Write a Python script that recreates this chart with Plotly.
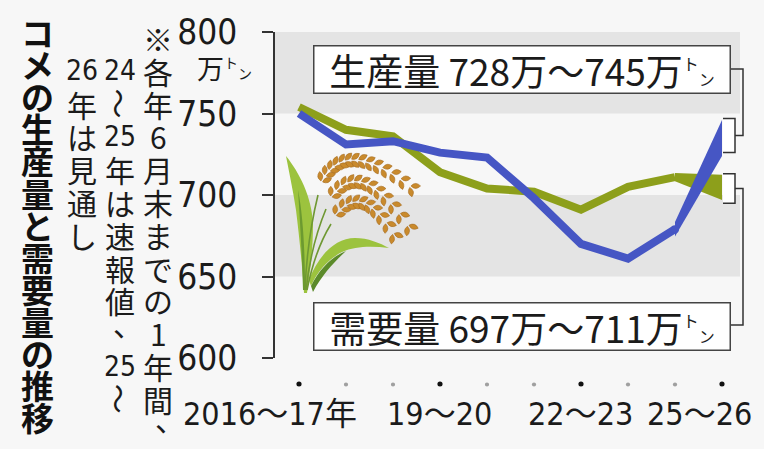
import re
import numpy as np
import plotly.graph_objects as go

# コメの生産量と需要量（万トン）
periods = ["2016〜17", "17〜18", "18〜19", "19〜20", "20〜21",
           "21〜22", "22〜23", "23〜24", "24〜25", "25〜26"]
production = [750, 731, 733, 726, 723, 698, 670, 661, 679]   # 生産量
production_outlook = [728, 745]                               # 25〜26 見通し
demand = [754, 740, 736, 714, 704, 702, 691, 705, 711]       # 需要量
demand_outlook = [697, 711]
ytick_vals = [600, 650, 700, 750, 800]
xtick_pos = [0, 3, 6, 9]
xtick_text = ["2016〜17年", "19〜20", "22〜23", "25〜26"]

title = "コメの生産量と需要量の推移"
note_cols = [
    ["※", "各", "年", "6", "月", "末", "ま", "で", "の", "1", "年", "間", "、"],
    ["24", "〜", "25", "年", "は", "速", "報", "値", "、", "25", "〜"],
    ["26", "年", "は", "見", "通", "し"],
]

BLUE = "#4656c4"
GREEN = "#8d9f1b"
INK = "#1b1b1b"
BG = "#f7f7f7"
CJK = "Noto Sans CJK JP"
NARROW = "DejaVu Sans Condensed, Noto Sans CJK JP"
TON = ("<sup><span style='font-size:16px'>ト</span></sup>"
       "<span style='font-size:16px'>ン</span>")

# plot area in page pixels - only used to place decorations and text
L, R, T, B = 275, 740, 32, 358


def fx(px):
    return (px - L) / (R - L)


def fy(py):
    return (B - py) / (B - T)


def vy(v):
    return (v - 600) / 200


def px_path(s):
    # pixel "x,y" pairs -> paper coords
    return re.sub(r"(-?[\d.]+),(-?[\d.]+)",
                  lambda m: f"{fx(float(m.group(1))):.5f},{fy(float(m.group(2))):.5f}", s)


fig = go.Figure()

# ---- background bands ----
shapes = []
for lo, hi in [(750, 800), (650, 700)]:
    shapes.append(dict(type="rect", xref="paper", yref="y", x0=0, x1=1, y0=lo, y1=hi,
                       fillcolor="#e4e4e4", line_width=0, layer="below"))

# ---- rice plant illustration (decoration) ----
leaves = [
    ("M 286,156 C 299,172 312,197 313,224 C 313,250 310,272 307,293 L 304,293 "
     "C 302,262 299,235 296,210 C 293,190 289,172 286,156 Z", "#9cc33e"),
    ("M 298,190 C 303,215 305,250 305,290 L 303,290 C 302,255 300,220 298,190 Z", "#6c9a30"),
    ("M 309,280 C 318,256 335,238 355,238 C 368,238 380,243 389,248 "
     "C 372,246 355,246 342,252 C 330,258 318,270 311,286 Z", "#9cc33e"),
    ("M 311,286 C 320,268 333,256 346,251 C 334,262 322,275 313,292 Z", "#5b8a2a"),
]
for p, c in leaves:
    shapes.append(dict(type="path", xref="paper", yref="paper", path=px_path(p),
                       fillcolor=c, line_width=0, layer="below"))
for p in ["M 305,290 Q 307,240 318,195", "M 306,290 Q 311,245 326,209",
          "M 307,290 Q 315,250 331,224"]:
    shapes.append(dict(type="path", xref="paper", yref="paper", path=px_path(p),
                       line=dict(color="#6f9833", width=1.6), layer="below"))

panicles = [((317, 193), (339, 128), (417, 192), 14),
            ((325, 207), (357, 146), (413, 233), 12),
            ((330, 223), (360, 174), (397, 240), 10)]
ang = np.radians(38)
for p0, c, p1, n in panicles:
    p0, c, p1 = np.array(p0, float), np.array(c, float), np.array(p1, float)
    for t in np.linspace(0.12, 0.97, n):
        P = (1 - t) ** 2 * p0 + 2 * (1 - t) * t * c + t ** 2 * p1
        d = 2 * (1 - t) * (c - p0) + 2 * t * (p1 - c)
        d /= np.hypot(*d)
        nrm = np.array([d[1], -d[0]])
        for s in (1, -1):
            g = d * np.cos(ang) + s * nrm * np.sin(ang)
            e = np.array([g[1], -g[0]])
            ctr = P + s * nrm * 3.0 + g * 1.5
            a, b = ctr - g * 4.8, ctr + g * 4.8
            q1, q2 = ctr + e * 5.0, ctr - e * 5.0
            path = (f"M {a[0]:.2f},{a[1]:.2f} Q {q1[0]:.2f},{q1[1]:.2f} {b[0]:.2f},{b[1]:.2f} "
                    f"Q {q2[0]:.2f},{q2[1]:.2f} {a[0]:.2f},{a[1]:.2f} Z")
            shapes.append(dict(type="path", xref="paper", yref="paper", path=px_path(path),
                               fillcolor="#c98a2c", line=dict(color="#a5691f", width=0.6),
                               layer="below"))

# tick dots under the axis (category index on x)
for i in range(len(periods)):
    big = i in xtick_pos
    r = 0.055 if big else 0.045
    shapes.append(dict(type="circle", xref="x", yref="paper",
                       x0=i - r, x1=i + r, y0=fy(386.5), y1=fy(381.5) if big else fy(382.5),
                       fillcolor="#111111" if big else "#a0a0a0", line_width=0))

# ---- lines ----
fig.add_trace(go.Scatter(x=periods[:9], y=demand, mode="lines",
                         line=dict(color=GREEN, width=8), hoverinfo="skip"))
fig.add_trace(go.Scatter(x=[periods[8], periods[9], periods[9], periods[8]],
                         y=[demand[8] + 2.5, demand_outlook[1] + 1.5,
                            demand_outlook[0], demand[8] - 2.5],
                         fill="toself", fillcolor=GREEN, mode="none", hoverinfo="skip"))
fig.add_trace(go.Scatter(x=periods[:9], y=production, mode="lines",
                         line=dict(color=BLUE, width=8), hoverinfo="skip"))
fig.add_trace(go.Scatter(x=[periods[8]], y=[production[8]], mode="markers",
                         marker=dict(color=BLUE, size=8), hoverinfo="skip"))
fig.add_trace(go.Scatter(x=[periods[8], periods[9], periods[9], periods[8]],
                         y=[production[8] + 4.5, production_outlook[1] + 1,
                            production_outlook[0] - 4, production[8] - 4.5],
                         fill="toself", fillcolor=BLUE, mode="none", hoverinfo="skip"))

# ---- brackets and connectors to the outlook labels ----
for rng, label_py in [(production_outlook, 69), (demand_outlook, 325)]:
    top, bot = vy(rng[1] + 2), vy(rng[0] - 2)
    shapes.append(dict(type="rect", xref="paper", yref="paper", x0=fx(723), x1=fx(735),
                       y0=bot, y1=top, fillcolor="white", line_width=0, layer="above"))
    shapes.append(dict(type="path", xref="paper", yref="paper",
                       path=f"M {fx(723)},{top} L {fx(735)},{top} L {fx(735)},{bot} L {fx(723)},{bot}",
                       line=dict(color="#333333", width=1.5), layer="above"))
    mid = (top + bot) / 2
    shapes.append(dict(type="path", xref="paper", yref="paper",
                       path=f"M {fx(735)},{mid} L {fx(743)},{mid} L {fx(743)},{fy(label_py)} "
                            f"L {fx(730)},{fy(label_py)}",
                       line=dict(color="#333333", width=1.5), layer="above"))

ann = []
for name, rng, top_py in [("生産量", production_outlook, 45), ("需要量", demand_outlook, 302)]:
    ann.append(dict(xref="paper", yref="paper", x=fx(313), y=fy(top_py),
                    xanchor="left", yanchor="top", showarrow=False,
                    text=f"{name} {rng[0]}万〜{rng[1]}万{TON}",
                    width=415, height=46, borderpad=0, borderwidth=1.5,
                    bordercolor="#444444", bgcolor="white", align="center", valign="middle",
                    font=dict(family=CJK, size=37, color=INK)))

# x labels
for i, txt, xs in zip(xtick_pos, xtick_text, [-29, -1, -1, -23]):
    ann.append(dict(xref="x", yref="paper", x=i, y=fy(414), xshift=xs,
                    xanchor="center", yanchor="middle", showarrow=False, text=txt,
                    font=dict(family=NARROW, size=32, color=INK)))

# unit under 800
ann.append(dict(xref="paper", yref="paper", x=fx(254), y=fy(67), xanchor="right",
                yanchor="middle", showarrow=False,
                text="万<sup><span style='font-size:14px'>ト</span></sup>"
                     "<span style='font-size:14px'>ン</span>",
                font=dict(family=CJK, size=27, color=INK)))

# vertical title
for k, ch in enumerate(title):
    ann.append(dict(xref="paper", yref="paper", x=fx(37), y=fy(32 + 32.1 * k),
                    xanchor="center", yanchor="middle", showarrow=False,
                    text=f"<b>{ch}</b>", font=dict(family=CJK, size=33, color="#111111")))

# vertical note columns
for col, (cells, cx, start) in enumerate(zip(note_cols, [158, 120, 82], [0, 1, 1])):
    for k, ch in enumerate(cells):
        cy = 38 + 32.8 * (k + start)
        a = dict(xref="paper", yref="paper", x=fx(cx), y=fy(cy), xanchor="center",
                 yanchor="middle", showarrow=False, text=ch,
                 font=dict(family=CJK, size=30, color=INK))
        if ch == "〜":
            a["textangle"] = 90
        elif ch == "、":
            a["xshift"], a["yshift"] = (12, 14) if col == 0 else (8, 10)
        elif len(ch) == 2:
            a["font"] = dict(family=NARROW, size=28, color=INK)
        ann.append(a)

fig.update_layout(
    width=764, height=449,
    margin=dict(l=L, r=764 - R, t=T, b=449 - B),
    paper_bgcolor=BG, plot_bgcolor=BG,
    showlegend=False,
    shapes=shapes, annotations=ann,
    xaxis=dict(type="category", categoryorder="array", categoryarray=periods,
               range=[-0.5106, 9.383], showticklabels=False, showgrid=False,
               zeroline=False, showline=False, fixedrange=True),
    yaxis=dict(range=[600, 800], tickvals=ytick_vals, showgrid=False, zeroline=False,
               showline=True, linecolor="#333333", linewidth=1.5,
               ticks="outside", ticklen=11, tickwidth=1.5, tickcolor="#333333",
               ticklabelstandoff=18,
               tickfont=dict(family=NARROW, size=35, color=INK), fixedrange=True),
)

fig.write_html("out.html", config={"displayModeBar": False},
               post_script="document.body.style.margin='0';"
                           f"document.body.style.background='{BG}';")
